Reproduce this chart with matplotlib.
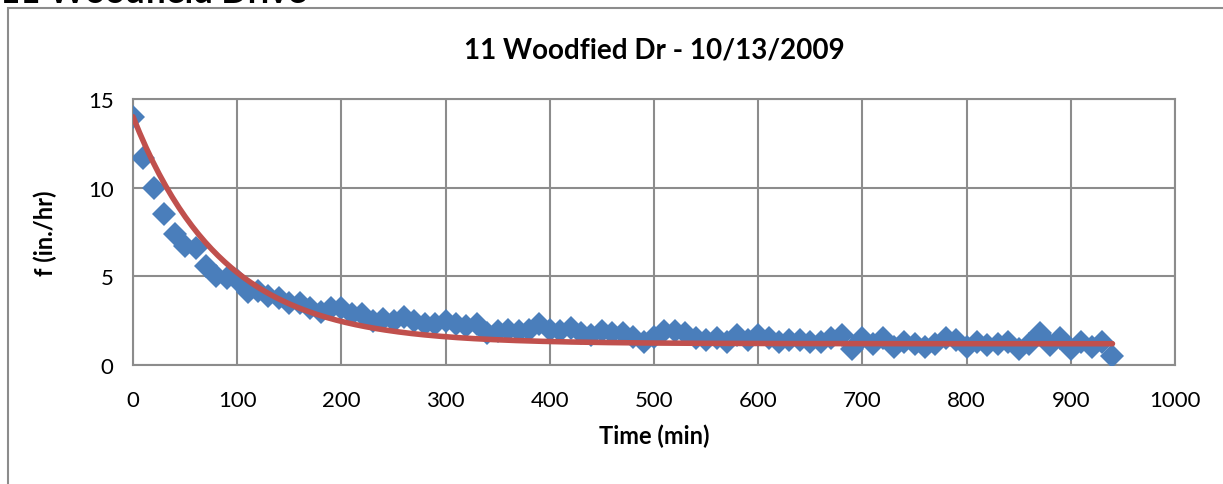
import numpy as np
from matplotlib import pyplot as plt
from matplotlib.patches import Rectangle

# measured infiltration rate, one reading every 10 minutes
time_min = list(range(0, 950, 10))
rate = [14.0, 11.7, 10.0, 8.5, 7.4, 6.7, 6.6, 5.6, 5.0, 4.9,
        4.8, 4.1, 4.2, 3.9, 3.8, 3.5, 3.5, 3.2, 3.0, 3.2,
        3.2, 2.9, 2.9, 2.5, 2.6, 2.5, 2.7, 2.5, 2.3, 2.3,
        2.5, 2.3, 2.2, 2.3, 1.8, 1.9, 2.0, 1.9, 2.0, 2.3,
        2.0, 1.9, 2.1, 1.8, 1.7, 1.9, 1.8, 1.8, 1.6, 1.3,
        1.6, 1.9, 1.9, 1.8, 1.5, 1.4, 1.5, 1.3, 1.7, 1.4,
        1.7, 1.5, 1.3, 1.4, 1.4, 1.3, 1.3, 1.5, 1.7, 0.9,
        1.5, 1.2, 1.5, 1.0, 1.3, 1.2, 1.0, 1.2, 1.5, 1.4,
        1.0, 1.3, 1.1, 1.2, 1.3, 0.9, 1.2, 1.8, 1.1, 1.5,
        0.9, 1.3, 1.0, 1.3, 0.5]

# Horton fit parameters
f0 = 14.0
fc = 1.2
k = 0.0116

x_ticks = [0, 100, 200, 300, 400, 500, 600, 700, 800, 900, 1000]
y_ticks = [0, 5, 10, 15]

plt.rcParams['font.family'] = ['Lato', 'DejaVu Sans']

fig = plt.figure(figsize=(12.23, 4.85), dpi=100)
ax = fig.add_axes([133 / 1223, 1 - 366 / 485, (1175 - 133) / 1223, (366 - 100) / 485])

# outer chart frame and the clipped sheet heading
fig.patches.append(Rectangle((8 / 1223, -0.05), 1.2, 1 - 9 / 485 + 0.05,
                             transform=fig.transFigure, fill=False,
                             edgecolor='#8c8c8c', linewidth=1.5))
fig.text(0.0, 1 - 3 / 485, '11 Woodfield Drive', fontsize=25, fontweight='bold',
         va='baseline', ha='left')

t_fit = np.linspace(0, 940, 300)
f_fit = fc + (f0 - fc) * np.exp(-k * t_fit)

ax.plot(time_min, rate, linestyle='none', marker='D', markersize=12.5,
        color='#4a7ebb', markeredgewidth=0, zorder=3)
ax.plot(t_fit, f_fit, color='#c0504d', linewidth=4, solid_capstyle='round', zorder=4)

ax.set_xlim(0, 1000)
ax.set_ylim(0, 15)
ax.set_xticks(x_ticks)
ax.set_yticks(y_ticks)
ax.tick_params(axis='x', length=0, labelsize=16, pad=18)
ax.tick_params(axis='y', length=0, labelsize=16, pad=14)
ax.grid(True, color='#8c8c8c', linewidth=1.5)
ax.set_axisbelow(True)
for s in ax.spines.values():
    s.set_color('#8c8c8c')
    s.set_linewidth(1.5)

ax.set_title('11 Woodfied Dr - 10/13/2009', fontsize=20, fontweight='bold', pad=30)
ax.set_xlabel('Time (min)', fontsize=17, fontweight='bold', labelpad=10)
ax.set_ylabel('f (in./hr)', fontsize=17, fontweight='bold', labelpad=22)

fig.savefig('out.png', dpi=100)
plt.close(fig)
